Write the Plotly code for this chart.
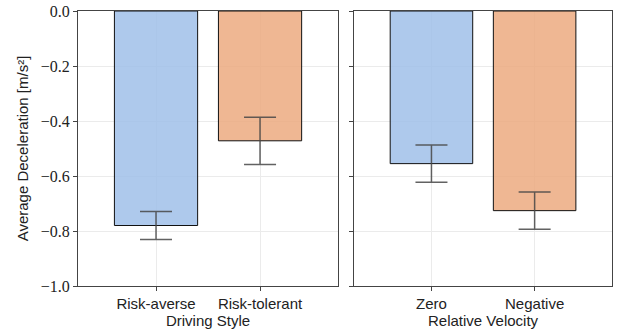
import plotly.graph_objects as go

# Data
style_cats = ["Risk-averse", "Risk-tolerant"]
style_means = [-0.780, -0.472]
style_errs = [0.051, 0.086]

vel_cats = ["Zero", "Negative"]
vel_means = [-0.555, -0.726]
vel_errs = [0.068, 0.068]

ytick_vals = [0.0, -0.2, -0.4, -0.6, -0.8, -1.0]
ytick_text = ["0.0", "\u22120.2", "\u22120.4", "\u22120.6", "\u22120.8", "\u22121.0"]

bar_colors = ["rgba(160,191,233,0.85)", "rgba(236,170,128,0.85)"]
err_style = dict(type="data", visible=True, color="rgba(70,70,70,0.85)", thickness=1.5, width=16)

fig = go.Figure()
fig.add_trace(go.Bar(
    x=style_cats, y=style_means, width=0.8,
    marker=dict(color=bar_colors, line=dict(color="#111111", width=1)),
    error_y=dict(array=style_errs, **err_style),
    xaxis="x", yaxis="y", showlegend=False,
))
fig.add_trace(go.Bar(
    x=vel_cats, y=vel_means, width=0.8,
    marker=dict(color=bar_colors, line=dict(color="#111111", width=1)),
    error_y=dict(array=vel_errs, **err_style),
    xaxis="x2", yaxis="y2", showlegend=False,
))

axis_common = dict(
    showline=True, linecolor="#444444", linewidth=1, mirror=True,
    showgrid=True, gridcolor="#ebebeb", gridwidth=1,
    ticks="outside", ticklen=4, tickcolor="#444444",
    zeroline=False, automargin=False,
)
sans = "Liberation Sans, Arial, sans-serif"

fig.update_layout(
    width=619, height=335,
    margin=dict(l=78, r=7, t=11, b=49),
    paper_bgcolor="white", plot_bgcolor="white",
    font=dict(family=sans, size=15, color="#222222"),
    xaxis=dict(domain=[0, 0.487], range=[-0.75, 1.75], type="category",
               title=dict(text="Driving Style", standoff=2, font=dict(size=15)),
               tickfont=dict(size=15), **axis_common),
    xaxis2=dict(domain=[0.517, 1], range=[-0.75, 1.75], type="category",
                title=dict(text="Relative Velocity", standoff=2, font=dict(size=15)),
                tickfont=dict(size=15), anchor="y2", **axis_common),
    yaxis=dict(range=[-1, 0], tickvals=ytick_vals, ticktext=ytick_text,
               tickfont=dict(family="Liberation Serif, DejaVu Serif, serif", size=16),
               title=dict(text="Average Deceleration [m/s\u00b2]", standoff=8, font=dict(size=15)),
               **axis_common),
    yaxis2=dict(range=[-1, 0], tickvals=ytick_vals, showticklabels=False,
                anchor="x2", matches="y", **axis_common),
)

fig.write_html("out.html")
